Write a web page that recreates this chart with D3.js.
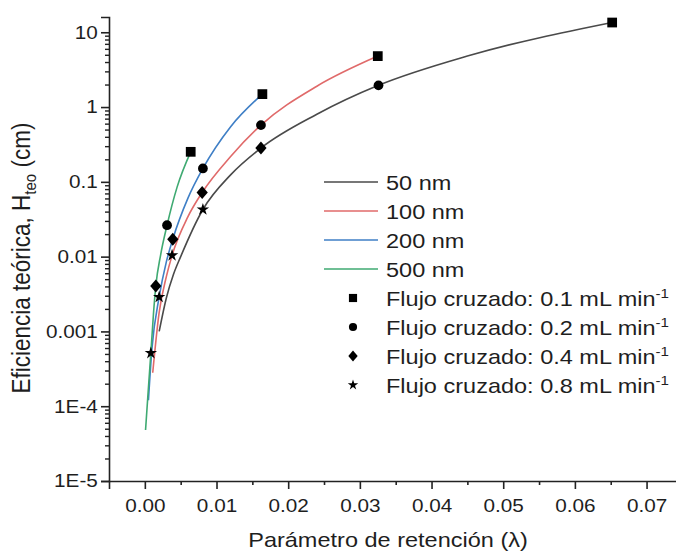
<!DOCTYPE html>
<html>
<head>
<meta charset="utf-8">
<script src="https://cdn.jsdelivr.net/npm/d3@7"></script>
<style>
  body { margin: 0; background: #fff; }
  svg { display: block; }
  text { font-family: "Liberation Sans", Arial, sans-serif; fill: #1e1e1e; }
</style>
</head>
<body>
<script>
// tick labels
const xTickVals = [0, 0.01, 0.02, 0.03, 0.04, 0.05, 0.06, 0.07];
const xTickLabels = ["0.00", "0.01", "0.02", "0.03", "0.04", "0.05", "0.06", "0.07"];
const yTickVals = [1e-5, 1e-4, 1e-3, 1e-2, 0.1, 1, 10];
const yTickLabels = ["1E-5", "1E-4", "0.001", "0.01", "0.1", "1", "10"];

// theoretical curves (lambda, Hteo in cm)
const sizes = ["50 nm", "100 nm", "200 nm", "500 nm"];
const lineColors = ["#4a4a4a", "#e06a6a", "#3f7fc6", "#3faa72"];
const lambda50 = [0.0020, 0.0030, 0.0040, 0.0050, 0.0081, 0.012, 0.0162, 0.024, 0.0326, 0.045, 0.0652];
const hteo50 = [0.0010, 0.0028, 0.0058, 0.0100, 0.0427, 0.125, 0.283, 0.80, 1.95, 4.8, 13.5];
const lambda100 = [0.0011, 0.0020, 0.0030, 0.0038, 0.0060, 0.0080, 0.012, 0.0162, 0.024, 0.0325];
const hteo100 = [0.00028, 0.0018, 0.0054, 0.0104, 0.034, 0.0721, 0.22, 0.574, 1.9, 4.8];
const lambda200 = [0.0005, 0.0010, 0.0020, 0.0030, 0.0039, 0.0060, 0.0081, 0.012, 0.0164];
const hteo200 = [0.00012, 0.0006, 0.00289, 0.0085, 0.0171, 0.06, 0.151, 0.55, 1.49];
const lambda500 = [0.0001, 0.00045, 0.00084, 0.0012, 0.00153, 0.0022, 0.0031, 0.0045, 0.0064];
const hteo500 = [0.000048, 0.00015, 0.000513, 0.0017, 0.00405, 0.0105, 0.0263, 0.085, 0.252];

// experimental points by cross flow (order: 50, 100, 200, 500 nm)
const flows = ["0.1", "0.2", "0.4", "0.8"];
const lambdaF01 = [0.0652, 0.0325, 0.0164, 0.0064];
const hteoF01 = [13.5, 4.8, 1.49, 0.252];
const lambdaF02 = [0.0326, 0.0162, 0.0081, 0.0031];
const hteoF02 = [1.95, 0.574, 0.151, 0.0263];
const lambdaF04 = [0.0162, 0.0080, 0.0039, 0.00153];
const hteoF04 = [0.283, 0.0721, 0.0171, 0.00405];
const lambdaF08 = [0.0081, 0.0038, 0.0020, 0.00084];
const hteoF08 = [0.0427, 0.0104, 0.00289, 0.000513];

const W = 676, H = 553;
const SX = 1.12; // the source figure is slightly stretched horizontally

const svg = d3.select("body").append("svg")
    .attr("width", W)
    .attr("height", H);

const x = d3.scaleLinear().domain([-0.005, 0.075]).range([109, 682.4]);
const y = d3.scaleLog().domain([1e-5, 16]).range([481, 17]);

// custom diamond, a bit taller than wide
const diamond = {
    draw(ctx, size) {
        const r = Math.sqrt(size / 2);
        ctx.moveTo(0, -r * 1.1);
        ctx.lineTo(r * 0.95, 0);
        ctx.lineTo(0, r * 1.1);
        ctx.lineTo(-r * 0.95, 0);
        ctx.closePath();
    }
};
const symbols = [d3.symbolSquare, d3.symbolCircle, diamond, d3.symbolStar];
const symSizes = [95, 75, 70, 48];

// x axis
const xAxis = svg.append("g")
    .attr("transform", `translate(0,${y.range()[0]})`)
    .call(d3.axisBottom(x)
        .tickValues(xTickVals)
        .tickFormat((d, i) => xTickLabels[i])
        .tickSize(8)
        .tickPadding(10));
xAxis.select(".domain").attr("stroke", "#222").attr("stroke-width", 1.6);
xAxis.selectAll(".tick line").attr("stroke", "#222").attr("stroke-width", 1.6);
xAxis.selectAll(".tick text")
    .attr("font-size", 18.5)
    .attr("transform", `scale(${SX},1)`);

const xMinor = d3.range(-0.005, 0.0751, 0.01).map(v => +v.toFixed(3)).filter(v => v > -0.005);
svg.append("g")
    .attr("transform", `translate(0,${y.range()[0]})`)
    .call(d3.axisBottom(x).tickValues(xMinor).tickFormat("").tickSize(4))
    .call(g => g.select(".domain").remove())
    .selectAll(".tick line").attr("stroke", "#222").attr("stroke-width", 1.6);

// y axis
const yAxis = svg.append("g")
    .attr("transform", `translate(${x.range()[0]},0)`)
    .call(d3.axisLeft(y)
        .tickValues(yTickVals)
        .tickFormat((d, i) => yTickLabels[i])
        .tickSize(8)
        .tickPadding(2));
yAxis.select(".domain").attr("stroke", "#222").attr("stroke-width", 1.6);
yAxis.selectAll(".tick line").attr("stroke", "#222").attr("stroke-width", 1.6);
yAxis.selectAll(".tick text")
    .attr("font-size", 18.5)
    .attr("transform", `scale(${SX},1)`);

const yMinor = [];
for (let e = -5; e <= 1; e++) {
    for (let k = 2; k <= 9; k++) {
        const v = k * Math.pow(10, e);
        if (v < 16) yMinor.push(v);
    }
}
svg.append("g")
    .attr("transform", `translate(${x.range()[0]},0)`)
    .call(d3.axisLeft(y).tickValues(yMinor).tickFormat("").tickSize(4))
    .call(g => g.select(".domain").remove())
    .selectAll(".tick line").attr("stroke", "#222").attr("stroke-width", 1.4);

// curves
const curves = [
    d3.zip(lambda50, hteo50),
    d3.zip(lambda100, hteo100),
    d3.zip(lambda200, hteo200),
    d3.zip(lambda500, hteo500)
];
const line = d3.line()
    .x(d => x(d[0]))
    .y(d => y(d[1]))
    .curve(d3.curveMonotoneX);

svg.append("g").selectAll("path")
    .data(curves)
    .join("path")
    .attr("d", line)
    .attr("fill", "none")
    .attr("stroke", (d, i) => lineColors[i])
    .attr("stroke-width", 1.6);

// markers
const points = [
    d3.zip(lambdaF01, hteoF01),
    d3.zip(lambdaF02, hteoF02),
    d3.zip(lambdaF04, hteoF04),
    d3.zip(lambdaF08, hteoF08)
];
points.forEach((pts, i) => {
    svg.append("g").selectAll("path")
        .data(pts)
        .join("path")
        .attr("transform", d => `translate(${x(d[0])},${y(d[1])})`)
        .attr("d", d3.symbol().type(symbols[i]).size(symSizes[i]))
        .attr("fill", "#000");
});

// legend
const legX = 324, legY = 182, legStep = 29;
const leg = svg.append("g");
sizes.forEach((s, i) => {
    const yy = legY + i * legStep;
    leg.append("line")
        .attr("x1", legX).attr("x2", legX + 54)
        .attr("y1", yy).attr("y2", yy)
        .attr("stroke", lineColors[i])
        .attr("stroke-width", 1.6);
    leg.append("text")
        .attr("transform", `translate(${legX + 62},${yy + 7.5}) scale(${SX},1)`)
        .attr("font-size", 21)
        .text(s);
});
flows.forEach((f, i) => {
    const yy = legY + (i + 4) * legStep;
    leg.append("path")
        .attr("transform", `translate(${legX + 29},${yy})`)
        .attr("d", d3.symbol().type(symbols[i]).size(symSizes[i] * 0.7))
        .attr("fill", "#000");
    const t = leg.append("text")
        .attr("transform", `translate(${legX + 62},${yy + 7.5}) scale(${SX},1)`)
        .attr("font-size", 21);
    t.append("tspan").text(`Flujo cruzado: ${f} mL min`);
    t.append("tspan").attr("font-size", 13.5).attr("dy", -8).text("-1");
});

// axis titles
svg.append("text")
    .attr("transform", `translate(388,547) scale(${SX},1)`)
    .attr("text-anchor", "middle")
    .attr("font-size", 21)
    .text("Parámetro de retención (λ)");

const yt = svg.append("text")
    .attr("transform", `translate(30,258) rotate(-90) scale(1,${SX})`)
    .attr("text-anchor", "middle")
    .attr("font-size", 22.5);
yt.append("tspan").text("Eficiencia teórica, H");
yt.append("tspan").attr("font-size", 15).attr("dy", 5).text("teo");
yt.append("tspan").attr("dy", -5).text(" (cm)");
</script>
</body>
</html>
